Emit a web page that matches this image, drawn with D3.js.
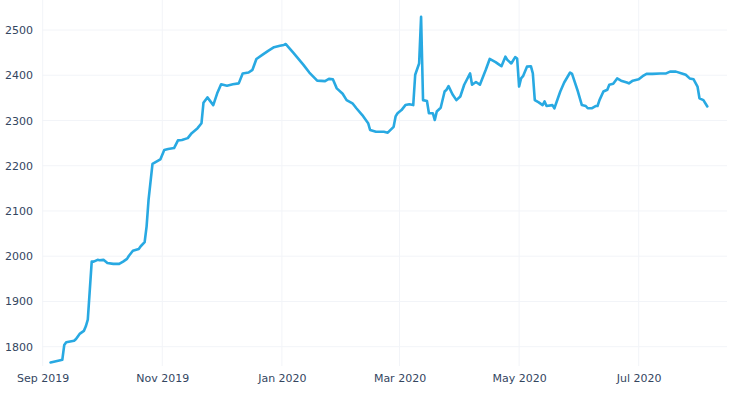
<!DOCTYPE html>
<html>
<head>
<meta charset="utf-8">
<script src="https://cdn.jsdelivr.net/npm/d3@7"></script>
<style>
  html, body { margin: 0; padding: 0; background: #ffffff; }
  svg { display: block; }
</style>
</head>
<body>
<svg id="chart" width="743" height="406"></svg>
<script>
// ---- data ----
const dates = [
  "2019-09-05","2019-09-10","2019-09-11","2019-09-12","2019-09-13","2019-09-17","2019-09-18","2019-09-20",
  "2019-09-22","2019-09-23","2019-09-24","2019-09-26","2019-09-27","2019-09-29","2019-09-30","2019-10-02",
  "2019-10-04","2019-10-07","2019-10-10","2019-10-12","2019-10-14","2019-10-15","2019-10-17","2019-10-20",
  "2019-10-21","2019-10-23","2019-10-24","2019-10-25","2019-10-27","2019-10-29","2019-10-31","2019-11-02",
  "2019-11-04","2019-11-07","2019-11-09","2019-11-11","2019-11-14","2019-11-16","2019-11-19","2019-11-21",
  "2019-11-22","2019-11-24","2019-11-27","2019-11-29","2019-12-01","2019-12-04","2019-12-07","2019-12-10",
  "2019-12-12","2019-12-15","2019-12-17","2019-12-19","2019-12-22","2019-12-25","2019-12-28","2019-12-31",
  "2020-01-02","2020-01-03","2020-01-07","2020-01-12","2020-01-15","2020-01-19","2020-01-23","2020-01-25",
  "2020-01-27","2020-01-29","2020-02-01","2020-02-03","2020-02-06","2020-02-08","2020-02-11","2020-02-14",
  "2020-02-15","2020-02-18","2020-02-22","2020-02-24","2020-02-27","2020-02-28","2020-02-29","2020-03-02",
  "2020-03-04","2020-03-06","2020-03-08","2020-03-09","2020-03-11","2020-03-12","2020-03-13","2020-03-15",
  "2020-03-16","2020-03-18","2020-03-19","2020-03-20","2020-03-22","2020-03-24","2020-03-25","2020-03-26",
  "2020-03-28","2020-03-30","2020-04-01","2020-04-03","2020-04-06","2020-04-07","2020-04-09","2020-04-11",
  "2020-04-13","2020-04-14","2020-04-16","2020-04-19","2020-04-21","2020-04-22","2020-04-24","2020-04-25",
  "2020-04-27","2020-04-29","2020-04-30","2020-05-01","2020-05-02","2020-05-03","2020-05-05","2020-05-07",
  "2020-05-08","2020-05-09","2020-05-11","2020-05-13","2020-05-14","2020-05-15","2020-05-18","2020-05-19",
  "2020-05-22","2020-05-24","2020-05-27","2020-05-28","2020-05-31","2020-06-02","2020-06-04","2020-06-05",
  "2020-06-07","2020-06-09","2020-06-10","2020-06-11","2020-06-13","2020-06-15","2020-06-16","2020-06-18",
  "2020-06-20","2020-06-22","2020-06-25","2020-06-26","2020-06-28","2020-07-01","2020-07-03","2020-07-05",
  "2020-07-08","2020-07-12","2020-07-15","2020-07-17","2020-07-20","2020-07-23","2020-07-25","2020-07-27",
  "2020-07-29","2020-07-31","2020-08-01","2020-08-03","2020-08-05"
];
const values = [
  1765,1770,1771,1804,1810,1813,1817,1829,
  1835,1845,1860,1988,1988,1992,1991,1992,
  1985,1983,1983,1988,1994,2001,2012,2016,
  2022,2031,2066,2125,2204,2209,2214,2235,
  2237,2239,2256,2257,2261,2272,2283,2294,
  2339,2351,2334,2360,2380,2377,2380,2382,
  2404,2406,2412,2436,2445,2454,2462,2465,
  2467,2469,2449,2423,2406,2388,2387,2392,
  2391,2371,2359,2345,2338,2327,2312,2294,
  2279,2275,2275,2273,2286,2309,2316,2323,
  2334,2336,2334,2401,2426,2529,2345,2343,
  2316,2316,2301,2320,2328,2364,2368,2376,
  2358,2345,2353,2379,2404,2379,2385,2379,
  2401,2412,2436,2429,2423,2420,2441,2434,
  2426,2440,2437,2375,2393,2398,2419,2420,
  2404,2345,2340,2334,2342,2332,2334,2327,
  2364,2384,2406,2403,2364,2334,2332,2327,
  2327,2332,2332,2345,2364,2368,2379,2381,
  2393,2388,2384,2382,2388,2391,2398,2403,
  2403,2404,2404,2408,2408,2404,2401,2393,
  2391,2375,2349,2345,2331
];
const yTicks = [1800, 1900, 2000, 2100, 2200, 2300, 2400, 2500];
const xTicks = ["2019-09-01","2019-11-01","2020-01-01","2020-03-01","2020-05-01","2020-07-01"];

// ---- drawing ----
const parse = d3.utcParse("%Y-%m-%d");
const data = dates.map((d, i) => ({ date: parse(d), value: values[i] }));

const svg = d3.select("#chart");
const plot = { left: 42, right: 727, top: 0, bottom: 366 };

const x = d3.scaleUtc()
  .domain([parse("2019-09-01"), parse("2020-07-01")])
  .range([42.7, 638.7]);
const y = d3.scaleLinear()
  .domain([1800, 2500])
  .range([346.7, 30]);

const fontFamily = "'DejaVu Sans', Verdana, sans-serif";
const textColor = "#34465f";
const gridColor = "#f2f4f8";

// grid
const gridG = svg.append("g");
gridG.selectAll("line.h").data(yTicks).join("line")
  .attr("x1", plot.left).attr("x2", plot.right)
  .attr("y1", d => y(d)).attr("y2", d => y(d))
  .attr("stroke", gridColor).attr("stroke-width", 1);
gridG.selectAll("line.v").data(xTicks.map(parse)).join("line")
  .attr("x1", d => x(d)).attr("x2", d => x(d))
  .attr("y1", plot.top).attr("y2", plot.bottom)
  .attr("stroke", gridColor).attr("stroke-width", 1);

// y axis
const yAxis = d3.axisLeft(y).tickValues(yTicks).tickSize(0).tickPadding(0).tickFormat(d3.format("d"));
const yg = svg.append("g").attr("transform", "translate(33,0)").call(yAxis);
yg.select(".domain").remove();
yg.selectAll("text").attr("font-family", fontFamily).attr("font-size", 11).attr("fill", textColor);

// x axis
const xAxis = d3.axisBottom(x).tickValues(xTicks.map(parse)).tickSize(0).tickPadding(0)
  .tickFormat(d3.utcFormat("%b %Y"));
const xg = svg.append("g").attr("transform", "translate(0,374)").call(xAxis);
xg.select(".domain").remove();
xg.selectAll("text").attr("font-family", fontFamily).attr("font-size", 11).attr("fill", textColor);

// line
const line = d3.line().x(d => x(d.date)).y(d => y(d.value));
svg.append("path").datum(data)
  .attr("fill", "none")
  .attr("stroke", "#28a9e2")
  .attr("stroke-width", 2.6)
  .attr("stroke-linejoin", "round")
  .attr("stroke-linecap", "round")
  .attr("d", line);
</script>
</body>
</html>
